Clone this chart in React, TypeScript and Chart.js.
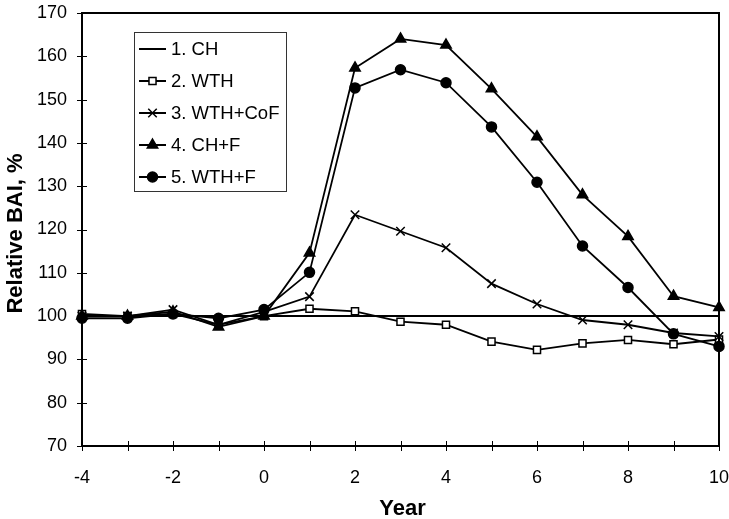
import React, { useEffect, useRef } from "react";
import { Chart, registerables } from "chart.js";
import { drawPoint } from "chart.js/helpers";

Chart.register(...registerables);

const years = [-4, -3, -2, -1, 0, 1, 2, 3, 4, 5, 6, 7, 8, 9, 10];
const seriesNames = ["1. CH", "2. WTH", "3. WTH+CoF", "4. CH+F", "5. WTH+F"];
const ch = [100, 100, 100, 100, 100, 100, 100, 100, 100, 100, 100, 100, 100, 100, 100];
const wth = [100.5, 100, 100.5, 98, 100, 101.7, 101.1, 98.7, 98, 94.1, 92.2, 93.7, 94.5, 93.5, 94.6];
const wthCoF = [100, 100, 101.5, 98, 101, 104.5, 123.4, 119.6, 115.8, 107.5, 102.8, 99.1, 98, 96.1, 95.3];
const chF = [100, 100, 101, 97.5, 100, 114.6, 157.3, 164, 162.6, 152.5, 141.4, 128, 118.4, 104.6, 102];
const wthF = [99.5, 99.5, 100.5, 99.5, 101.5, 110.1, 152.7, 156.9, 153.9, 143.7, 130.9, 116.2, 106.6, 95.9, 93];
const yTicks = [70, 80, 90, 100, 110, 120, 130, 140, 150, 160, 170];
const xTickLabels = [-4, -2, 0, 2, 4, 6, 8, 10];
const xTitle = "Year";
const yTitle = "Relative BAI, %";

const FONT = "'Liberation Sans', Arial, sans-serif";

const markerStyles = [
  { pointStyle: false as any, radius: 0, fill: "#000" },
  { pointStyle: "rect", radius: 5, fill: "#fff" },
  { pointStyle: "crossRot", radius: 6, fill: "#000" },
  { pointStyle: "triangle", radius: 6, fill: "#000" },
  { pointStyle: "circle", radius: 5, fill: "#000" },
];

const frameAndLegend = {
  id: "frameAndLegend",
  afterDatasetsDraw(chart: any) {
    const { ctx, chartArea } = chart;
    const xs = chart.scales.x;
    const ysc = chart.scales.y;
    ctx.save();
    ctx.strokeStyle = "#000";
    ctx.lineWidth = 2;
    ctx.strokeRect(chartArea.left, chartArea.top, chartArea.right - chartArea.left, chartArea.bottom - chartArea.top);

    // crossing tick marks
    ctx.lineWidth = 1;
    ctx.beginPath();
    for (let v = -4; v <= 10; v++) {
      const px = Math.round(xs.getPixelForValue(v)) + 0.5;
      ctx.moveTo(px, chartArea.bottom - 5);
      ctx.lineTo(px, chartArea.bottom + 5);
    }
    yTicks.forEach((v) => {
      const py = Math.round(ysc.getPixelForValue(v)) + 0.5;
      ctx.moveTo(chartArea.left - 5, py);
      ctx.lineTo(chartArea.left + 5, py);
    });
    ctx.stroke();

    // axis titles
    ctx.fillStyle = "#000";
    ctx.font = `bold 22px ${FONT}`;
    ctx.textAlign = "center";
    ctx.textBaseline = "middle";
    ctx.fillText(xTitle, (chartArea.left + chartArea.right) / 2 + 2, 509);
    ctx.save();
    ctx.translate(16, (chartArea.top + chartArea.bottom) / 2 + 4);
    ctx.rotate(-Math.PI / 2);
    ctx.fillText(yTitle, 0, 0);
    ctx.restore();

    // legend box
    const bx = 134, by = 32, bw = 152, bh = 159;
    ctx.fillStyle = "#fff";
    ctx.fillRect(bx, by, bw, bh);
    ctx.strokeStyle = "#333";
    ctx.lineWidth = 1;
    ctx.strokeRect(bx + 0.5, by + 0.5, bw, bh);
    const ys = [49, 81, 113, 145, 177];
    chart.data.datasets.forEach((ds: any, i: number) => {
      const y = ys[i];
      ctx.strokeStyle = "#000";
      ctx.lineWidth = 2;
      ctx.beginPath();
      ctx.moveTo(139, y);
      ctx.lineTo(166, y);
      ctx.stroke();
      const m = markerStyles[i];
      if (m.pointStyle) {
        ctx.fillStyle = m.fill;
        ctx.strokeStyle = "#000";
        ctx.lineWidth = 1.5;
        drawPoint(ctx, { pointStyle: m.pointStyle, radius: m.radius, rotation: 0, borderWidth: 1.5 }, 152.5, y);
      }
      ctx.fillStyle = "#000";
      ctx.font = `18.5px ${FONT}`;
      ctx.textBaseline = "middle";
      ctx.textAlign = "left";
      ctx.fillText(ds.label, 171, y + 1);
    });
    ctx.restore();
  },
};

export default function App() {
  const ref = useRef<HTMLCanvasElement>(null);
  useEffect(() => {
    document.body.style.margin = "0";
    const seriesData = [ch, wth, wthCoF, chF, wthF];
    const chart = new Chart(ref.current!, {
      type: "line",
      data: {
        datasets: seriesData.map((vals, i) => ({
          label: seriesNames[i],
          data: years.map((x, j) => ({ x, y: vals[j] })),
          borderColor: "#000",
          borderWidth: i === 0 ? 2 : 1.8,
          backgroundColor: markerStyles[i].fill,
          pointStyle: markerStyles[i].pointStyle,
          pointRadius: markerStyles[i].radius,
          pointBorderColor: "#000",
          pointBorderWidth: 1.5,
          pointBackgroundColor: markerStyles[i].fill,
          tension: 0,
          order: 5 - i,
          clip: false as any,
        })),
      },
      options: {
        responsive: false,
        animation: false,
        layout: { padding: { left: 0, top: 13, right: 10, bottom: 0 } },
        plugins: { legend: { display: false }, tooltip: { enabled: false } },
        scales: {
          x: {
            type: "linear",
            min: -4,
            max: 10,
            afterFit: (s: any) => {
              s.height = 73;
              s.paddingLeft = 0;
              s.paddingRight = 0;
            },
            afterBuildTicks: (s: any) => { s.ticks = xTickLabels.map((v) => ({ value: v })); },
            ticks: {
              autoSkip: false,
              maxRotation: 0,
              color: "#000",
              font: { family: FONT, size: 18 },
              padding: 21,
            },
            grid: { display: false, drawTicks: false },
            border: { display: false },
          },
          y: {
            type: "linear",
            min: 70,
            max: 170,
            afterFit: (s: any) => {
              s.width = 82;
              s.paddingTop = 0;
              s.paddingBottom = 0;
            },
            afterBuildTicks: (s: any) => { s.ticks = yTicks.map((v) => ({ value: v })); },
            ticks: {
              color: "#000",
              font: { family: FONT, size: 18 },
              padding: 15,
            },
            grid: { display: false, drawTicks: false },
            border: { display: false },
          },
        },
      },
      plugins: [frameAndLegend],
    });
    return () => chart.destroy();
  }, []);
  return (
    <div style={{ width: 729, height: 519, background: "#fff" }}>
      <canvas ref={ref} width={729} height={519} style={{ display: "block" }} />
    </div>
  );
}
